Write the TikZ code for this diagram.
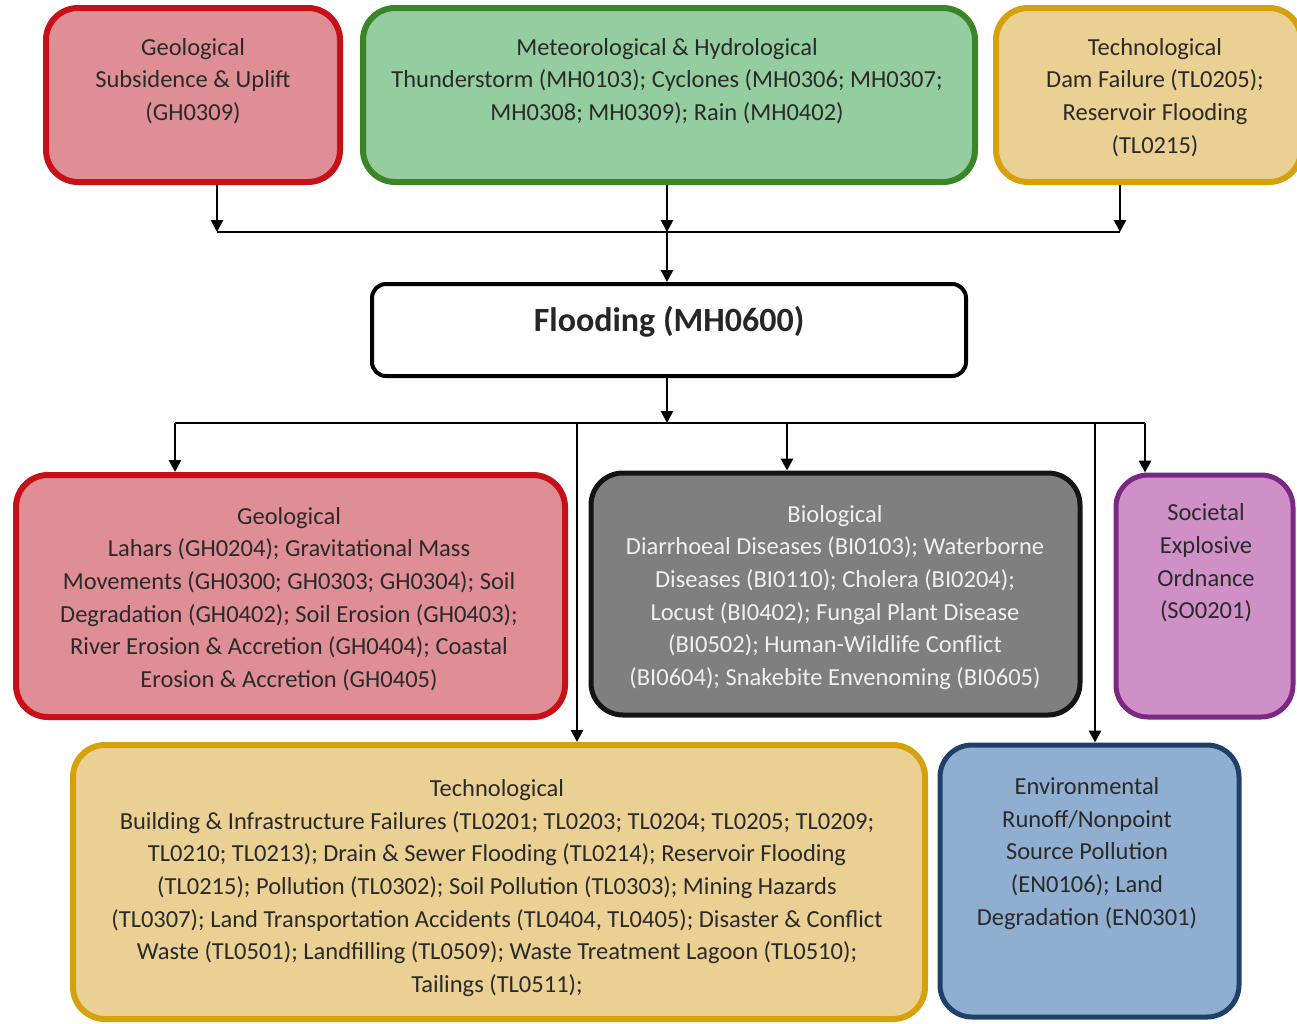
\documentclass[tikz,border=0pt]{standalone}
\usepackage{fontspec}
\setmainfont{Carlito}
\usetikzlibrary{arrows.meta,calc}
\definecolor{redF}{HTML}{DF8E95}
\definecolor{redD}{HTML}{C8101A}
\definecolor{grnF}{HTML}{94CDA0}
\definecolor{grnD}{HTML}{3B8526}
\definecolor{yelF}{HTML}{EBD093}
\definecolor{yelD}{HTML}{D6A20C}
\definecolor{gryF}{HTML}{7F7F7F}
\definecolor{gryD}{HTML}{141414}
\definecolor{purF}{HTML}{CE90C6}
\definecolor{purD}{HTML}{7A2882}
\definecolor{bluF}{HTML}{8FAED0}
\definecolor{bluD}{HTML}{1F4068}
\definecolor{txtC}{HTML}{2A2A2A}
\tikzset{
  hbox/.style={draw, rounded corners=32pt, inner sep=0pt, line width=6pt},
  txt/.style={align=center, text=txtC, inner sep=0pt, font=\fontsize{24.5pt}{32.7pt}\selectfont},
  conn/.style={line width=2.8pt, draw=black},
  arr/.style={conn, -{Triangle[length=12pt,width=12pt]}}
}
\begin{document}
\begin{tikzpicture}[x=1pt,y=-1pt]
\useasboundingbox (0,0) rectangle (1297,1023);
% top row
\node[hbox, fill=redF, draw=redD, minimum width=294pt, minimum height=174pt] (geoT) at (193,95) {};
\node[hbox, fill=grnF, draw=grnD, minimum width=612pt, minimum height=174pt] (metT) at (669,95) {};
\node[hbox, fill=yelF, draw=yelD, minimum width=305pt, minimum height=174pt] (tecT) at (1148.5,95) {};
\node[txt] (tGeoT) at (193,81) {Geological\\Subsidence \& Uplift\\(GH0309)};
\node[txt] (tMetT) at (667,81) {Meteorological \& Hydrological\\Thunderstorm (MH0103); Cyclones (MH0306; MH0307;\\MH0308; MH0309); Rain (MH0402)};
\node[txt] (tTecT) at (1155,97.5) {Technological\\Dam Failure (TL0205);\\Reservoir Flooding\\(TL0215)};
% flooding
\node[draw, rounded corners=14pt, fill=white, line width=4pt, minimum width=594pt, minimum height=92pt, inner sep=0pt] (flood) at (669,330) {};
\node[txt, font=\bfseries\fontsize{34pt}{40pt}\selectfont, text=black!85] (tFlood) at (669,322) {Flooding (MH0600)};
% middle row
\node[hbox, fill=redF, draw=redD, minimum width=549pt, minimum height=242pt] (geoB) at (290.5,596) {};
\node[hbox, fill=gryF, draw=gryD, line width=5pt, minimum width=489pt, minimum height=242pt] (bio) at (835.5,594) {};
\node[hbox, fill=purF, draw=purD, line width=5pt, minimum width=177pt, minimum height=242pt] (soc) at (1204.5,596) {};
\node[txt] (tGeoB) at (289,599) {Geological\\Lahars (GH0204); Gravitational Mass\\Movements (GH0300; GH0303; GH0304); Soil\\Degradation (GH0402); Soil Erosion (GH0403);\\River Erosion \& Accretion (GH0404); Coastal\\Erosion \& Accretion (GH0405)};
\node[txt, text=white!94!black] (tBio) at (835,597.5) {Biological\\Diarrhoeal Diseases (BI0103); Waterborne\\Diseases (BI0110); Cholera (BI0204);\\Locust (BI0402); Fungal Plant Disease\\(BI0502); Human-Wildlife Conflict\\(BI0604); Snakebite Envenoming (BI0605)};
\node[txt] (tSoc) at (1206,563) {Societal\\Explosive\\Ordnance\\(SO0201)};
% bottom row
\node[hbox, fill=yelF, draw=yelD, minimum width=852pt, minimum height=274pt] (tecB) at (499,882) {};
\node[hbox, fill=bluF, draw=bluD, line width=5pt, minimum width=299pt, minimum height=272pt] (env) at (1089.5,881) {};
\node[txt] (tTecB) at (497,888) {Technological\\Building \& Infrastructure Failures (TL0201; TL0203; TL0204; TL0205; TL0209;\\TL0210; TL0213); Drain \& Sewer Flooding (TL0214); Reservoir Flooding\\(TL0215); Pollution (TL0302); Soil Pollution (TL0303); Mining Hazards\\(TL0307); Land Transportation Accidents (TL0404, TL0405); Disaster \& Conflict\\Waste (TL0501); Landfilling (TL0509); Waste Treatment Lagoon (TL0510);\\Tailings (TL0511);};
\node[txt] (tEnv) at (1087,853.5) {Environmental\\Runoff/Nonpoint\\Source Pollution\\(EN0106); Land\\Degradation (EN0301)};
% connectors top
\coordinate (jg) at (217,232);
\coordinate (jm) at (667,232);
\coordinate (jt) at (1120,232);
\draw[arr] (geoT.south -| jg) -- (jg);
\draw[arr] (metT.south -| jm) -- (jm);
\draw[arr] (tecT.south -| jt) -- (jt);
\draw[conn] (jg) -- (jt);
\draw[arr] (jm) -- (flood.north -| jm);
% connectors bottom
\coordinate (jb) at (667,423);
\coordinate (bl) at (175,423);
\coordinate (bt) at (577,423);
\coordinate (bb) at (787,423);
\coordinate (be) at (1095,423);
\coordinate (br) at (1145,423);
\draw[arr] (flood.south -| jb) -- (jb);
\draw[conn] (bl) -- (br);
\draw[arr] (bl) -- (geoB.north -| bl);
\draw[arr] (bt) -- (tecB.north -| bt);
\draw[arr] (bb) -- (bio.north -| bb);
\draw[arr] (be) -- (env.north -| be);
\draw[arr] (br) -- (soc.north -| br);
\end{tikzpicture}
\end{document}
